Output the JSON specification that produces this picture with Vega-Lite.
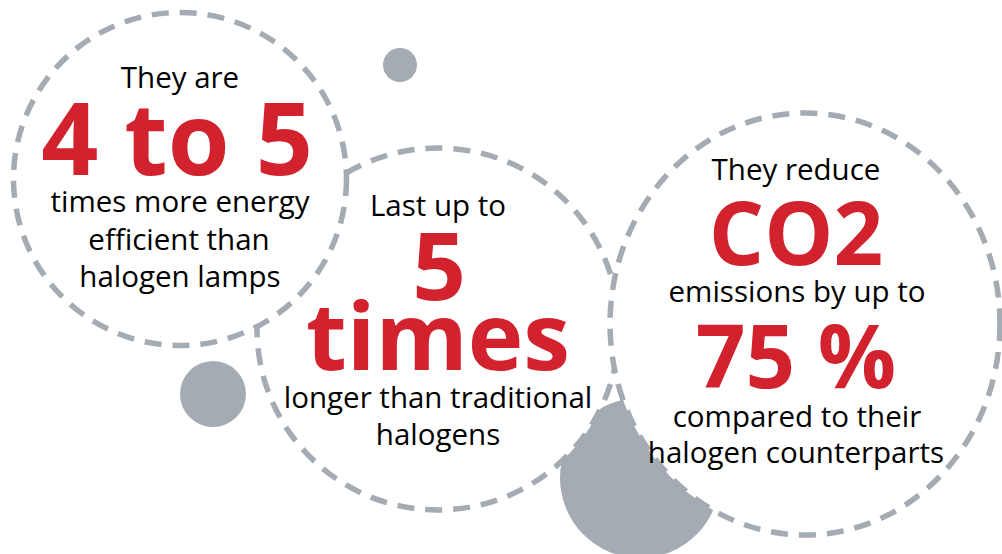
{
  "$schema": "https://vega.github.io/schema/vega-lite/v6.json",
  "width": 1002,
  "height": 554,
  "autosize": {"type": "fit", "contains": "padding"},
  "padding": 0,
  "background": "white",
  "config": {"view": {"stroke": null}},
  "datasets": {
    "dots": [
      {"name": "large", "x": 640, "y": 478, "d": 160},
      {"name": "small", "x": 400, "y": 65, "d": 34},
      {"name": "medium", "x": 213, "y": 394, "d": 66}
    ],
    "ringMiddle": [
      {"name": "Last up to 5 times", "x": 438, "y": 329, "d": 362}
    ],
    "ringLeft": [
      {"name": "4 to 5 times", "x": 180, "y": 179, "d": 333}
    ],
    "ringRight": [
      {"name": "CO2 75 %", "x": 805, "y": 324, "d": 422}
    ],
    "texts": [
      {"t": "They are", "x": 180, "y": 88, "role": "n"},
      {"t": "4 to 5", "x": 177, "y": 175, "role": "b1"},
      {"t": "times more energy", "x": 180, "y": 212, "role": "n"},
      {"t": "efficient than", "x": 179, "y": 250, "role": "n"},
      {"t": "halogen lamps", "x": 180, "y": 287, "role": "n"},
      {"t": "Last up to", "x": 438, "y": 216, "role": "n"},
      {"t": "5", "x": 439, "y": 300, "role": "b2"},
      {"t": "times", "x": 438, "y": 370, "role": "b2"},
      {"t": "longer than traditional", "x": 438, "y": 408, "role": "n"},
      {"t": "halogens", "x": 438, "y": 445, "role": "n"},
      {"t": "They reduce", "x": 796, "y": 180, "role": "n"},
      {"t": "CO2", "x": 796, "y": 265, "role": "b3"},
      {"t": "emissions by up to", "x": 797, "y": 302, "role": "n"},
      {"t": "75 %", "x": 796, "y": 388, "role": "b3"},
      {"t": "compared to their", "x": 797, "y": 427, "role": "n"},
      {"t": "halogen counterparts", "x": 796, "y": 463, "role": "n"}
    ]
  },
  "encoding": {
    "x": {"field": "x", "type": "quantitative", "scale": {"domain": [0, 1002], "nice": false, "zero": false}, "axis": null},
    "y": {"field": "y", "type": "quantitative", "scale": {"domain": [0, 554], "reverse": true, "nice": false, "zero": false}, "axis": null}
  },
  "layer": [
    {
      "data": {"name": "dots"},
      "mark": {"type": "point", "shape": "circle", "filled": true, "color": "#a4abb2", "opacity": 1, "strokeWidth": 0, "clip": true},
      "encoding": {
        "size": {"field": "d", "type": "quantitative", "scale": {"type": "pow", "exponent": 2, "domain": [0, 1000], "range": [0, 1000000]}, "legend": null}
      }
    },
    {
      "data": {"name": "ringMiddle"},
      "mark": {"type": "point", "shape": "circle", "filled": false, "fill": "white", "stroke": "#a4abb2", "opacity": 1, "fillOpacity": 1, "strokeOpacity": 1, "strokeWidth": 5.5, "strokeDash": [17, 11], "clip": true},
      "encoding": {
        "size": {"field": "d", "type": "quantitative", "legend": null}
      }
    },
    {
      "data": {"name": "ringLeft"},
      "mark": {"type": "point", "shape": "circle", "filled": false, "fill": "white", "stroke": "#a4abb2", "opacity": 1, "fillOpacity": 1, "strokeOpacity": 1, "strokeWidth": 5.5, "strokeDash": [17, 11], "clip": true},
      "encoding": {
        "size": {"field": "d", "type": "quantitative", "legend": null}
      }
    },
    {
      "data": {"name": "ringRight"},
      "mark": {"type": "point", "shape": "M 0.924 0 C 0.924 0.5523 0.5103 1 0 1 C -0.5103 1 -0.924 0.5523 -0.924 0 C -0.924 -0.5523 -0.5103 -1 0 -1 C 0.5103 -1 0.924 -0.5523 0.924 0 Z", "filled": false, "fill": "white", "stroke": "#a4abb2", "opacity": 1, "fillOpacity": 1, "strokeOpacity": 1, "strokeWidth": 5.5, "strokeDash": [17, 11], "clip": true},
      "encoding": {
        "size": {"field": "d", "type": "quantitative", "legend": null}
      }
    },
    {
      "data": {"name": "texts"},
      "transform": [{"filter": "datum.role === 'n'"}],
      "mark": {"type": "text", "align": "center", "baseline": "alphabetic", "font": "Open Sans", "fontSize": 29.5, "color": "#000000"},
      "encoding": {"text": {"field": "t"}}
    },
    {
      "data": {"name": "texts"},
      "transform": [{"filter": "datum.role === 'b1'"}],
      "mark": {"type": "text", "align": "center", "baseline": "alphabetic", "font": "Open Sans", "fontWeight": "bold", "fontSize": 100, "color": "#d2222d"},
      "encoding": {"text": {"field": "t"}}
    },
    {
      "data": {"name": "texts"},
      "transform": [{"filter": "datum.role === 'b2'"}],
      "mark": {"type": "text", "align": "center", "baseline": "alphabetic", "font": "Open Sans", "fontWeight": "bold", "fontSize": 94, "color": "#d2222d"},
      "encoding": {"text": {"field": "t"}}
    },
    {
      "data": {"name": "texts"},
      "transform": [{"filter": "datum.role === 'b3'"}],
      "mark": {"type": "text", "align": "center", "baseline": "alphabetic", "font": "Open Sans", "fontWeight": "bold", "fontSize": 87, "color": "#d2222d"},
      "encoding": {"text": {"field": "t"}}
    }
  ]
}
